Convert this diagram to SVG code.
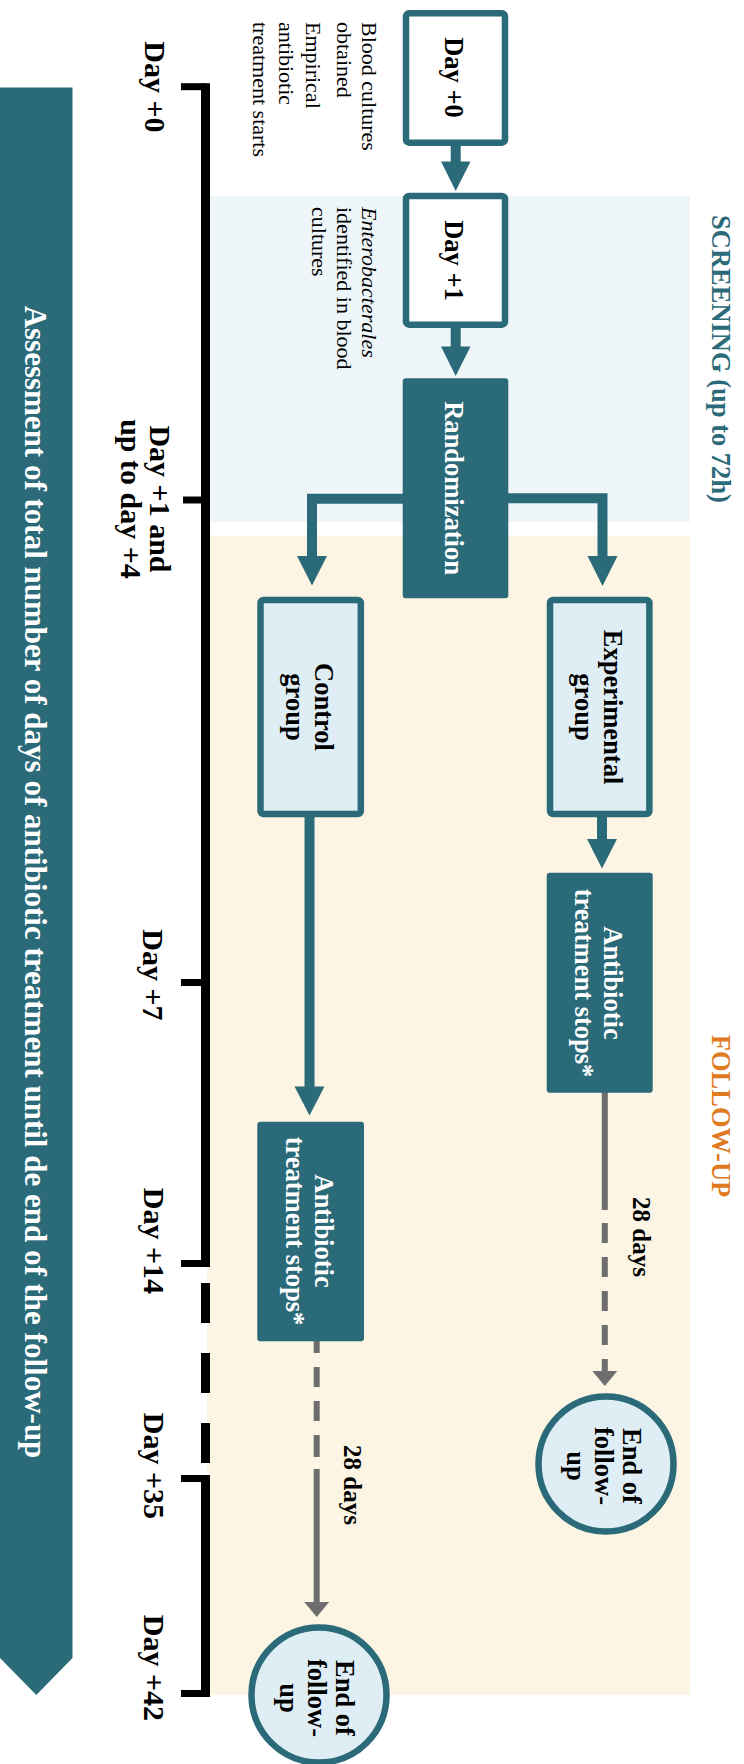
<svg xmlns="http://www.w3.org/2000/svg" width="744" height="1764" viewBox="0 0 744 1764">
<style>
text{font-family:"Liberation Serif","Times New Roman",serif;}
.tl{font-size:30px;font-weight:bold;fill:#000;text-anchor:middle;}
.bx{font-size:26.5px;font-weight:bold;fill:#000;text-anchor:middle;}
.w{fill:#fff;}
.an{font-size:22px;fill:#000;}
.it{font-style:italic;}
.open{fill:#fff;stroke:#2B6A78;stroke-width:6.5;}
.grp{fill:#DFEEF5;stroke:#2B6A78;stroke-width:6.5;}
.solid{fill:#2B6A78;}
.conn{fill:none;stroke:#2B6A78;stroke-width:10;stroke-linejoin:miter;}
.head{fill:#2B6A78;}
.grey{fill:none;stroke:#6E6E6E;stroke-width:6;}
.ghead{fill:#6E6E6E;}
.tline{fill:none;stroke:#000;stroke-width:9;}
.tick{fill:none;stroke:#000;stroke-width:7;}
.phase{font-size:26.5px;font-weight:bold;text-anchor:middle;}
</style>

<!-- phase backgrounds -->
<rect x="207" y="196" width="483" height="326" fill="#EEF6FA"/>
<rect x="207" y="536" width="483" height="1159" fill="#FCF5E4"/>
<text class="phase" x="712" y="359" fill="#2B6A78" transform="rotate(90 712 359)">SCREENING (up to 72h)</text>
<text class="phase" x="712" y="1116" fill="#E07A1F" transform="rotate(90 712 1116)">FOLLOW-UP</text>

<!-- assessment banner -->
<g id="banner">
<path d="M0,87.5 H72.5 V1658 L36.3,1695 L0,1658 Z" fill="#2B6A78"/>
<text x="25" y="882" font-size="31" font-weight="bold" fill="#fff" text-anchor="middle" transform="rotate(90 25 882)">Assessment of total number of days of antibiotic treatment until de end of the follow-up</text>
</g>

<!-- timeline -->
<g id="timeline">
<line class="tline" x1="205.5" y1="83.2" x2="205.5" y2="1267"/>
<line class="tick" x1="181" y1="86.7" x2="205.5" y2="86.7"/>
<line class="tick" x1="183" y1="500" x2="205.5" y2="500"/>
<line class="tick" x1="181" y1="982.5" x2="205.5" y2="982.5"/>
<line class="tick" x1="181" y1="1263.5" x2="205.5" y2="1263.5"/>
<path class="tline" d="M205.5,1283 V1323 M205.5,1353 V1393 M205.5,1423 V1463"/>
<line class="tline" x1="205.5" y1="1475" x2="205.5" y2="1697"/>
<line class="tick" x1="181" y1="1478.5" x2="205.5" y2="1478.5"/>
<line class="tick" x1="181" y1="1693.5" x2="205.5" y2="1693.5"/>
<text class="tl" x="145" y="87" transform="rotate(90 145 87)">Day +0</text>
<text class="tl" x="150" y="499" transform="rotate(90 150 499)">Day +1 and</text>
<text class="tl" x="121" y="499" transform="rotate(90 121 499)">up to day +4</text>
<text class="tl" x="143" y="975" transform="rotate(90 143 975)">Day +7</text>
<text class="tl" x="144" y="1241" transform="rotate(90 144 1241)">Day +14</text>
<text class="tl" x="144" y="1466" transform="rotate(90 144 1466)">Day +35</text>
<text class="tl" x="144" y="1668" transform="rotate(90 144 1668)">Day +42</text>
</g>

<!-- annotations -->
<g id="note-day0">
<text class="an" x="362" y="22" transform="rotate(90 362 22)">Blood cultures</text>
<text class="an" x="337" y="22" transform="rotate(90 337 22)">obtained</text>
<text class="an" x="306" y="22" transform="rotate(90 306 22)">Empirical</text>
<text class="an" x="279" y="22" transform="rotate(90 279 22)">antibiotic</text>
<text class="an" x="253" y="22" transform="rotate(90 253 22)">treatment starts</text>
</g>
<g id="note-day1">
<text class="an it" x="362" y="207" transform="rotate(90 362 207)">Enterobacterales</text>
<text class="an" x="337" y="207" transform="rotate(90 337 207)">identified in blood</text>
<text class="an" x="312" y="207" transform="rotate(90 312 207)">cultures</text>
</g>

<!-- connectors -->
<g id="connectors">
<line class="conn" x1="455.7" y1="145" x2="455.7" y2="162"/>
<polygon class="head" points="441,161.5 470.5,161.5 455.7,191"/>
<line class="conn" x1="455.7" y1="327" x2="455.7" y2="347"/>
<polygon class="head" points="441,346.5 470.5,346.5 455.7,376"/>
<path class="conn" d="M403,498.7 H312 V557"/>
<polygon class="head" points="297,556 327,556 312,585.5"/>
<path class="conn" d="M508,498.3 H602.5 V557"/>
<polygon class="head" points="587.5,556 617.5,556 602.5,586"/>
<line class="conn" x1="309.5" y1="816" x2="309.5" y2="1087.5"/>
<polygon class="head" points="294.5,1086.5 324.5,1086.5 309.5,1115.5"/>
<line class="conn" x1="602" y1="816" x2="602" y2="840"/>
<polygon class="head" points="587,839 617,839 602,868.5"/>
<path class="grey" d="M604.8,1092 V1210 M604.8,1223 V1243 M604.8,1257 V1277 M604.8,1291 V1311 M604.8,1325 V1345 M604.8,1359 V1372"/>
<polygon class="ghead" points="592.3,1371 617.3,1371 604.8,1386"/>
<path class="grey" d="M316.7,1341 V1353 M316.7,1367 V1387 M316.7,1401 V1421 M316.7,1435 V1457 M316.7,1469 V1603"/>
<polygon class="ghead" points="304.2,1602 329.2,1602 316.7,1617"/>
<text class="bx" font-size="25" x="633" y="1237" transform="rotate(90 633 1237)" style="font-size:25px">28 days</text>
<text class="bx" x="344" y="1485" transform="rotate(90 344 1485)" style="font-size:25px">28 days</text>
</g>

<!-- nodes -->
<g id="day0">
<rect class="open" x="406" y="13.3" width="99" height="129.4" rx="3"/>
<text class="bx" x="445" y="77.5" transform="rotate(90 445 77.5)">Day +0</text>
</g>
<g id="day1">
<rect class="open" x="406" y="196" width="99" height="128.7" rx="3"/>
<text class="bx" x="445" y="260.5" transform="rotate(90 445 260.5)">Day +1</text>
</g>
<g id="randomization">
<rect class="solid" x="402.7" y="378.3" width="105.6" height="220" rx="3"/>
<text class="bx w" x="445" y="488" transform="rotate(90 445 488)">Randomization</text>
</g>
<g id="control">
<rect class="grp" x="260.5" y="600" width="100.3" height="214" rx="3"/>
<text class="bx" x="315" y="707" transform="rotate(90 315 707)">Control</text>
<text class="bx" x="286" y="707" transform="rotate(90 286 707)">group</text>
</g>
<g id="experimental">
<rect class="grp" x="550" y="600" width="99.4" height="214" rx="3"/>
<text class="bx" x="604" y="707" transform="rotate(90 604 707)">Experimental</text>
<text class="bx" x="575" y="707" transform="rotate(90 575 707)">group</text>
</g>
<g id="exp-stop">
<rect class="solid" x="546.7" y="872.7" width="106" height="220" rx="3"/>
<text class="bx w" x="604" y="983" transform="rotate(90 604 983)">Antibiotic</text>
<text class="bx w" x="575" y="983" transform="rotate(90 575 983)">treatment stops*</text>
</g>
<g id="ctrl-stop">
<rect class="solid" x="257.3" y="1121.7" width="106.7" height="219.5" rx="3"/>
<text class="bx w" x="315" y="1231" transform="rotate(90 315 1231)">Antibiotic</text>
<text class="bx w" x="286" y="1231" transform="rotate(90 286 1231)">treatment stops*</text>
</g>
<g id="exp-end">
<circle class="grp" cx="606" cy="1464" r="67.5"/>
<text class="bx" x="623" y="1466" transform="rotate(90 623 1466)">End of</text>
<text class="bx" x="595" y="1466" transform="rotate(90 595 1466)">follow-</text>
<text class="bx" x="567" y="1466" transform="rotate(90 567 1466)">up</text>
</g>
<g id="ctrl-end">
<circle class="grp" cx="319" cy="1695" r="67.5"/>
<text class="bx" x="336" y="1698" transform="rotate(90 336 1698)">End of</text>
<text class="bx" x="308" y="1698" transform="rotate(90 308 1698)">follow-</text>
<text class="bx" x="280" y="1698" transform="rotate(90 280 1698)">up</text>
</g>
</svg>
